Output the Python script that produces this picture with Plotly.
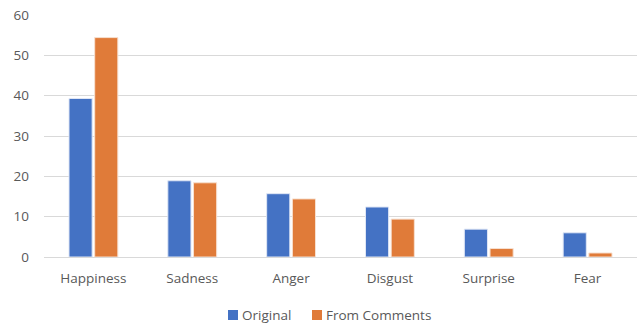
import plotly.graph_objects as go

# Emotion categories and the share (%) found in each source
categories = ["Happiness", "Sadness", "Anger", "Disgust", "Surprise", "Fear"]
original = [39.3, 18.9, 15.7, 12.4, 6.9, 6.0]
from_comments = [54.4, 18.4, 14.4, 9.4, 2.1, 1.0]
y_ticks = [0, 10, 20, 30, 40, 50, 60]

series_names = ["Original", "From Comments"]
series_colors = ["#4472C4", "#E07B39"]
series_edges = ["#dfe6f5", "#f7e0d0"]

W, H = 641, 324
L, R, T, B = 44, 4, 15, 67
plot_w, plot_h = W - L - R, H - T - B
FONT = "Open Sans"
FSIZE = 13.5

fig = go.Figure()
for name, vals, col, edge in zip(series_names, [original, from_comments], series_colors, series_edges):
    fig.add_trace(go.Bar(
        name=name, x=categories, y=vals,
        marker=dict(color=col, line=dict(color=edge, width=1)),
    ))


def px_x(px):
    return (px - L) / plot_w


def px_y(py):
    return (H - B - py) / plot_h


# Legend drawn below the plot: small colour square followed by the series name
legend_items = [(228, "Original"), (312, "From Comments")]
shapes, annotations = [], []
legend_cy = 315
for (sx, label), col in zip(legend_items, series_colors):
    shapes.append(dict(type="rect", xref="paper", yref="paper",
                       x0=px_x(sx), x1=px_x(sx + 10),
                       y0=px_y(legend_cy + 5), y1=px_y(legend_cy - 5),
                       fillcolor=col, line=dict(width=0)))
    annotations.append(dict(xref="paper", yref="paper", x=px_x(sx + 12), y=px_y(legend_cy),
                            xanchor="left", yanchor="middle", text=label, showarrow=False,
                            font=dict(family=FONT, size=FSIZE, color="#595959")))

fig.update_layout(
    width=W, height=H,
    margin=dict(l=L, r=R, t=T, b=B),
    paper_bgcolor="white", plot_bgcolor="white",
    barmode="group", bargap=0.48, bargroupgap=0.1,
    font=dict(family=FONT, size=FSIZE, color="#595959"),
    showlegend=False,
    shapes=shapes, annotations=annotations,
    xaxis=dict(showgrid=False, showline=False, ticks="", ticklabelstandoff=11,
               tickfont=dict(size=FSIZE)),
    yaxis=dict(range=[0, 60], tickvals=y_ticks, showgrid=True, gridcolor="#d9d9d9",
               gridwidth=1, zeroline=True, zerolinecolor="#d9d9d9", zerolinewidth=1,
               showline=False, ticks="", ticklabelstandoff=14, tickfont=dict(size=FSIZE)),
)

fig.write_html("out.html")
